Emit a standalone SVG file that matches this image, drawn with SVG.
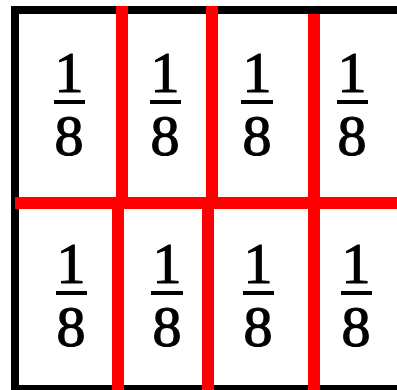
<svg xmlns="http://www.w3.org/2000/svg" width="397" height="390" viewBox="0 0 397 390">
<style>
.n{font-family:"Liberation Serif","Times New Roman",serif;font-size:58px;fill:#000;stroke:#000;stroke-width:1.2px;text-anchor:middle}
.bar{fill:#000}
.red{fill:#ff0000}
.blk{fill:#000}
</style>
<rect width="397" height="390" fill="#fff"/>
<g id="frame">
<rect class="blk" x="11" y="6" width="8" height="384"/>
<rect class="blk" x="11" y="6" width="386" height="8"/>
<rect class="blk" x="11" y="385" width="386" height="5"/>
</g>
<g id="cell-1-1"><text class="n" x="69" y="92">1</text><rect class="bar" x="54" y="100" width="31" height="4"/><text class="n" x="69" y="155">8</text></g>
<g id="cell-1-2"><text class="n" x="165" y="92">1</text><rect class="bar" x="150" y="100" width="31" height="4"/><text class="n" x="165" y="155">8</text></g>
<g id="cell-1-3"><text class="n" x="257" y="92">1</text><rect class="bar" x="241" y="100" width="32" height="4"/><text class="n" x="257" y="155">8</text></g>
<g id="cell-1-4"><text class="n" x="352" y="92">1</text><rect class="bar" x="337" y="100" width="31" height="4"/><text class="n" x="352" y="155">8</text></g>
<g id="cell-2-1"><text class="n" x="71" y="283">1</text><rect class="bar" x="56" y="291" width="31" height="4"/><text class="n" x="71" y="346">8</text></g>
<g id="cell-2-2"><text class="n" x="167" y="283">1</text><rect class="bar" x="151" y="291" width="32" height="4"/><text class="n" x="167" y="346">8</text></g>
<g id="cell-2-3"><text class="n" x="258" y="283">1</text><rect class="bar" x="243" y="291" width="31" height="4"/><text class="n" x="258" y="346">8</text></g>
<g id="cell-2-4"><text class="n" x="356" y="283">1</text><rect class="bar" x="341" y="291" width="31" height="4"/><text class="n" x="356" y="346">8</text></g>
<g id="connectors">
<rect class="red" x="15" y="197" width="382" height="12"/>
<rect class="red" x="116" y="6" width="12" height="191"/>
<rect class="red" x="112" y="209" width="12" height="181"/>
<rect class="red" x="206" y="6" width="12" height="191"/>
<rect class="red" x="202" y="209" width="12" height="181"/>
<rect class="red" x="308" y="14" width="12" height="183"/>
<rect class="red" x="308" y="209" width="12" height="181"/>
</g>
</svg>
